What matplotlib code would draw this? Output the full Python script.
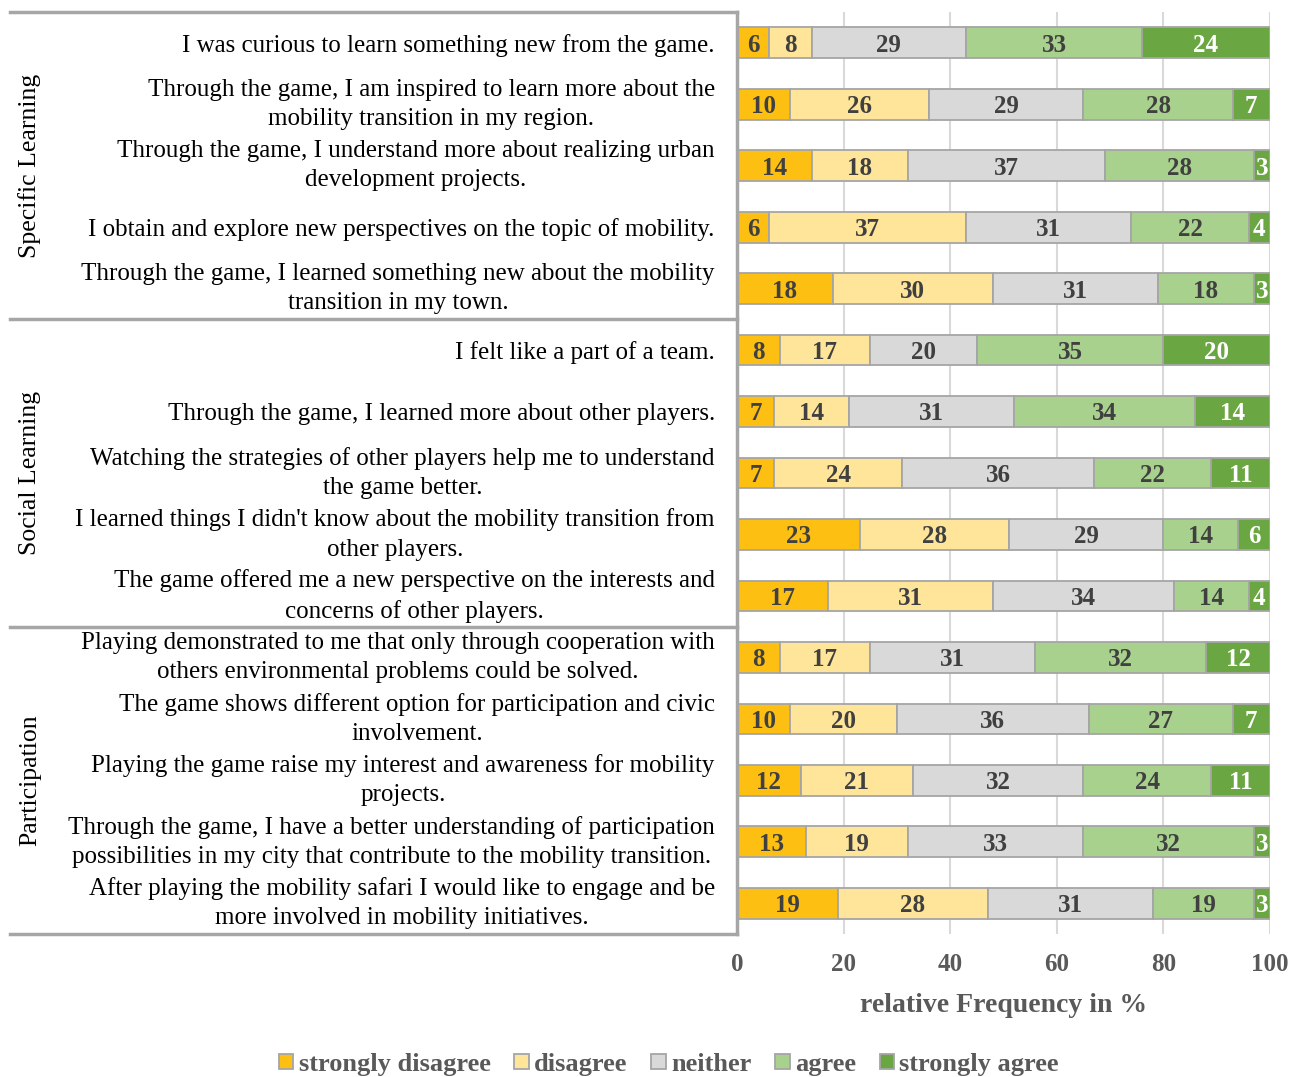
import matplotlib.pyplot as plt
from matplotlib.patches import Patch
from matplotlib.lines import Line2D
import matplotlib.transforms as mtransforms

plt.rcParams['font.family'] = ['Liberation Serif', 'DejaVu Serif']

questions = [
    "I was curious to learn something new from the game.",
    "Through the game, I am inspired to learn more about the\nmobility transition in my region.",
    "Through the game, I understand more about realizing urban\ndevelopment projects.",
    "I obtain and explore new perspectives on the topic of mobility.",
    "Through the game, I learned something new about the mobility\ntransition in my town.",
    "I felt like a part of a team.",
    "Through the game, I learned more about other players.",
    "Watching the strategies of other players help me to understand\nthe game better.",
    "I learned things I didn't know about the mobility transition from\nother players.",
    "The game offered me a new perspective on the interests and\nconcerns of other players.",
    "Playing demonstrated to me that only through cooperation with\nothers environmental problems could be solved.",
    "The game shows different option for participation and civic\ninvolvement.",
    "Playing the game raise my interest and awareness for mobility\nprojects.",
    "Through the game, I have a better understanding of participation\npossibilities in my city that contribute to the mobility transition.",
    "After playing the mobility safari I would like to engage and be\nmore involved in mobility initiatives.",
]
groups = ['Specific Learning', 'Social Learning', 'Participation']
group_sizes = [5, 5, 5]

categories = ['strongly disagree', 'disagree', 'neither', 'agree', 'strongly agree']
strongly_disagree = [6, 10, 14, 6, 18, 8, 7, 7, 23, 17, 8, 10, 12, 13, 19]
disagree = [8, 26, 18, 37, 30, 17, 14, 24, 28, 31, 17, 20, 21, 19, 28]
neither = [29, 29, 37, 31, 31, 20, 31, 36, 29, 34, 31, 36, 32, 33, 31]
agree = [33, 28, 28, 22, 18, 35, 34, 22, 14, 14, 32, 27, 24, 32, 19]
strongly_agree = [24, 7, 3, 4, 3, 20, 14, 11, 6, 4, 12, 7, 11, 3, 3]

series = [strongly_disagree, disagree, neither, agree, strongly_agree]
colors = ['#FDBF12', '#FEE599', '#D9D9D9', '#A9D18E', '#6AA641']
text_colors = ['#404040', '#404040', '#404040', '#404040', 'white']
edge = '#A5A5A5'

fig = plt.figure(figsize=(13.04, 10.77), dpi=100)
ax = fig.add_axes([737 / 1304, 1 - 934 / 1077, (1270 - 737) / 1304, (934 - 12) / 1077])

ypos = list(range(len(questions)))
left = [0] * len(questions)
for vals, col, tcol in zip(series, colors, text_colors):
    ax.barh(ypos, vals, left=left, height=0.5, color=col, edgecolor=edge, linewidth=1.3, zorder=3)
    for y, v, l in zip(ypos, vals, left):
        ax.text(l + v / 2, y + 0.04, str(v), ha='center', va='center', fontsize=18,
                fontweight='bold', color=tcol, zorder=4)
    left = [l + v for l, v in zip(left, vals)]

ax.set_xlim(0, 100)
ax.set_ylim(len(questions) - 0.5, -0.5)
ax.set_xticks([0, 20, 40, 60, 80, 100])
ax.set_xticklabels(['0', '20', '40', '60', '80', '100'], fontsize=18, fontweight='bold', color='#595959')
ax.tick_params(axis='x', length=0, pad=14)
ax.set_yticks(ypos)
ax.set_yticklabels(questions, fontsize=18, linespacing=1.42)
ax.tick_params(axis='y', length=0, pad=16)
for lbl, q in zip(ax.get_yticklabels(), questions):
    lbl.set_multialignment('center')
    if '\n' in q:
        lbl.set_verticalalignment('center')
ax.grid(axis='x', color='#D9D9D9', linewidth=1.5, zorder=0)
ax.set_axisbelow(True)
for s in ['top', 'right', 'bottom']:
    ax.spines[s].set_visible(False)
ax.spines['left'].set_color('#A6A6A6')
ax.spines['left'].set_linewidth(2.5)
ax.spines['left'].set_zorder(5)
ax.set_xlabel('relative Frequency in %', fontsize=20, fontweight='bold', color='#595959', labelpad=12)

# group separators and labels on the left
trans = mtransforms.blended_transform_factory(fig.transFigure, ax.transData)
start = -0.5
for name, size in zip(groups, group_sizes):
    end = start + size
    ax.add_line(Line2D([10 / 1304, 737 / 1304], [start, start], transform=trans,
                       color='#A6A6A6', linewidth=2.5, clip_on=False, zorder=5))
    ax.text(30 / 1304, (start + end) / 2, name, transform=trans, rotation=90,
            ha='center', va='center', fontsize=18.5)
    start = end
ax.add_line(Line2D([10 / 1304, 737 / 1304], [start, start], transform=trans,
                   color='#A6A6A6', linewidth=2.5, clip_on=False, zorder=5))

handles = [Patch(facecolor=c, edgecolor=edge, linewidth=1.3) for c in colors]
fig.legend(handles, categories, loc='lower center', bbox_to_anchor=(0.513, -0.021), ncol=5,
           frameon=False, handlelength=0.55, handleheight=0.55, handletextpad=0.2,
           columnspacing=0.9, prop={'family': 'Liberation Serif', 'weight': 'bold', 'size': 19},
           labelcolor='#595959')

fig.savefig('out.png', dpi=100)
